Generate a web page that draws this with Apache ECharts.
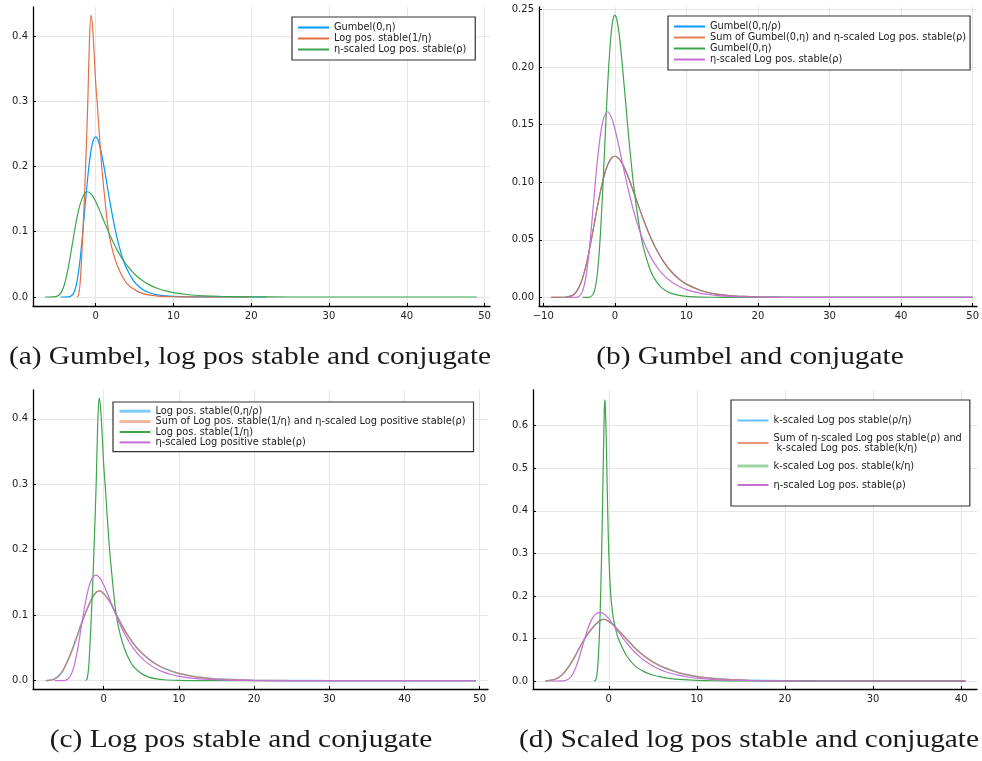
<!DOCTYPE html>
<html><head><meta charset="utf-8">
<script src="https://cdn.jsdelivr.net/npm/echarts@6/dist/echarts.min.js"></script>
<style>html,body{margin:0;padding:0;background:#fff}#c{width:982px;height:761px}</style>
</head><body><div id="c"></div>
<script>
// ---------- data ----------
// Gumbel(0,η)
const gumbelEtaX = [-4.5,-4,-3.5,-3,-2.75,-2.5,-2.25,-2,-1.75,-1.5,-1.25,-1,-0.75,-0.5,-0.25,0,0.25,0.5,0.75,1,1.25,1.5,1.75,2,2.5,3,3.5,4,5,6,7,8,9,10,12,14,16,20,30,40,50];
const gumbelEtaY = [0,0,0.0002,0.0031,0.0080,0.0177,0.0338,0.0569,0.0863,0.1196,0.1536,0.1851,0.2113,0.2305,0.2417,0.2453,0.2421,0.2333,0.2205,0.2049,0.1876,0.1697,0.1521,0.1350,0.1042,0.0788,0.0587,0.0432,0.0229,0.0120,0.0062,0.0032,0.0017,0.0009,0.0002,0.0001,0,0,0,0,0];
// Gumbel(0,η/ρ)
const gumbelEtaRhoX = [-8.9,-8,-7,-6,-5.5,-5,-4.5,-4,-3.5,-3,-2.5,-2,-1.5,-1,-0.5,0,0.5,1,1.5,2,3,4,5,6,7,8,9,10,12,14,16,18,20,24,30,40,50];
const gumbelEtaRhoY = [0,0,0.0001,0.0015,0.0040,0.0089,0.0169,0.0284,0.0432,0.0598,0.0768,0.0925,0.1057,0.1152,0.1208,0.1226,0.1210,0.1167,0.1102,0.1024,0.0849,0.0675,0.0521,0.0394,0.0294,0.0216,0.0158,0.0115,0.0060,0.0031,0.0016,0.0008,0.0004,0.0001,0,0,0];
// Log pos. stable(1/η)
const logStableInvEtaX = [-2.4,-2.2,-2,-1.8,-1.6,-1.4,-1.2,-1,-0.8,-0.6,-0.4,-0.2,0,0.25,0.5,0.75,1,1.25,1.5,1.75,2,2.5,3,3.5,4,5,6,7,8,10,12,14,20,30,40,50];
const logStableInvEtaY = [0,0.003,0.02,0.06,0.11,0.165,0.23,0.30,0.39,0.432,0.415,0.375,0.33,0.29,0.245,0.205,0.172,0.143,0.115,0.095,0.08,0.058,0.042,0.03,0.021,0.011,0.0055,0.0028,0.0014,0.0004,0.0001,0,0,0,0,0];
// η-scaled Log pos. stable(ρ)
const etaScaledX = [-6.5,-6,-5.5,-5,-4.5,-4,-3.5,-3,-2.5,-2,-1.5,-1,-0.5,0,0.5,1,1.5,2,2.5,3,3.5,4,5,6,7,8,9,10,12,14,16,18,20,25,30,40,50];
const etaScaledY = [0,0,0.0001,0.0009,0.0056,0.0195,0.0458,0.0806,0.1152,0.1419,0.1571,0.1613,0.1567,0.1465,0.1331,0.1185,0.1040,0.0904,0.0780,0.0669,0.0572,0.0487,0.0352,0.0253,0.0182,0.0131,0.0094,0.0067,0.0034,0.0018,0.0009,0.0005,0.0002,0,0,0,0];
// Log pos. stable(0,η/ρ) and the sum in (c)
const logStableEtaRhoX = [-7.7,-7,-6.5,-6,-5.5,-5,-4.5,-4,-3.5,-3,-2.5,-2,-1.5,-1,-0.5,0,0.5,1,1.5,2,2.5,3,4,5,6,7,8,10,12,14,16,20,25,30,40,50];
const logStableEtaRhoY = [0,0.001,0.003,0.007,0.014,0.025,0.038,0.053,0.069,0.086,0.101,0.115,0.127,0.135,0.137,0.133,0.126,0.117,0.105,0.094,0.083,0.073,0.056,0.043,0.033,0.025,0.019,0.011,0.0063,0.0036,0.002,0.0006,0.0001,0,0,0];
// k-scaled Log pos stable(ρ/η) and the sum in (d)
const kScaledRhoEtaX = [-7.2,-6.5,-6,-5.5,-5,-4.5,-4,-3.5,-3,-2.5,-2,-1.5,-1,-0.5,0,0.5,1,1.5,2,2.5,3,4,5,6,7,8,10,12,14,16,20,25,30,40,50];
const kScaledRhoEtaY = [0,0.002,0.005,0.011,0.021,0.035,0.052,0.071,0.09,0.107,0.121,0.133,0.142,0.145,0.140,0.132,0.121,0.11,0.099,0.088,0.077,0.059,0.045,0.034,0.026,0.019,0.0105,0.0057,0.003,0.0016,0.0005,0.0001,0,0,0];
// k-scaled Log pos. stable(k/η)
const kScaledKEtaX = [-1.7,-1.5,-1.4,-1.3,-1.2,-1.1,-1,-0.9,-0.8,-0.7,-0.6,-0.5,-0.45,-0.4,-0.3,-0.2,-0.1,0,0.1,0.2,0.3,0.5,0.75,1,1.5,2,3,4,5,6,7,8,10,12,15,20,30,40,50];
const kScaledKEtaY = [0,0.002,0.008,0.022,0.05,0.09,0.145,0.22,0.31,0.42,0.54,0.64,0.66,0.65,0.58,0.48,0.38,0.30,0.25,0.21,0.185,0.15,0.125,0.105,0.08,0.06,0.035,0.022,0.014,0.009,0.0058,0.0037,0.0015,0.0006,0.00015,0,0,0,0];

// last x of each drawn curve
const endA = 49, endABlue = 22, endARed = 20, endB = 50, endC = 49.5, endD = 40.5;

// tick labels
const xTicksA = [0,10,20,30,40,50];
const xTicksB = [-10,0,10,20,30,40,50];
const xTicksC = [0,10,20,30,40,50];
const xTicksD = [0,10,20,30,40];
const yTicksA = [0,0.1,0.2,0.3,0.4];
const yTicksB = [0,0.05,0.1,0.15,0.2,0.25];
const yTicksC = [0,0.1,0.2,0.3,0.4];
const yTicksD = [0,0.1,0.2,0.3,0.4,0.5,0.6];

// legend texts
const namesA = ['Gumbel(0,η)','Log pos. stable(1/η)','η-scaled Log pos. stable(ρ)'];
const namesB = ['Gumbel(0,η/ρ)','Sum of Gumbel(0,η) and η-scaled Log pos. stable(ρ)','Gumbel(0,η)','η-scaled Log pos. stable(ρ)'];
const namesC = ['Log pos. stable(0,η/ρ)','Sum of Log pos. stable(1/η) and η-scaled Log positive stable(ρ)','Log pos. stable(1/η)','η-scaled Log positive stable(ρ)'];
const namesD = ['k-scaled Log pos stable(ρ/η)','Sum of η-scaled Log pos stable(ρ) and\n k-scaled Log pos. stable(k/η)','k-scaled Log pos. stable(k/η)','η-scaled Log pos. stable(ρ)'];

const captions = ['(a) Gumbel, log pos stable and conjugate','(b) Gumbel and conjugate','(c) Log pos stable and conjugate','(d) Scaled log pos stable and conjugate'];

// ---------- build ----------
const BLUE='#009AFA', RED='#E36F47', GREEN='#3EA44E', PURPLE='#C371D2';
function pts(xs, ys, end){
  const out = [];
  for (let i=0;i<xs.length;i++){ if (xs[i] <= end) out.push([xs[i], ys[i]]); }
  if (out[out.length-1][0] < end) out.push([end, out[out.length-1][1]]);
  return out;
}
function fmtNum(v){ return v < 0 ? '\u2212' + Math.abs(v) : String(v); }
const tickFont = {color:'#222', fontSize:10, fontFamily:'DejaVu Sans'};
function xAx(g, min, max, ticks){
  return {type:'value', gridIndex:g, min:min, max:max,
    axisLine:{show:true, onZero:false, lineStyle:{color:'#000', width:1.3}},
    axisTick:{show:true, inside:true, length:3, customValues:ticks, lineStyle:{color:'#000', width:1}},
    axisLabel:Object.assign({customValues:ticks, margin:5, formatter:fmtNum}, tickFont),
    splitLine:{show:true, lineStyle:{color:'#e6e6e6', width:1}}};
}
function yAx(g, min, max, ticks, dec){
  return {type:'value', gridIndex:g, min:min, max:max,
    axisLine:{show:true, onZero:false, lineStyle:{color:'#000', width:1.3}},
    axisTick:{show:true, inside:true, length:3, customValues:ticks, lineStyle:{color:'#000', width:1}},
    axisLabel:Object.assign({customValues:ticks, margin:5, formatter:v=>v.toFixed(dec)}, tickFont),
    splitLine:{show:true, lineStyle:{color:'#e6e6e6', width:1}}};
}
function ser(g, name, color, data, extra){
  return Object.assign({type:'line', name:name, xAxisIndex:g, yAxisIndex:g, data:data,
    symbol:'none', smooth:0.3, clip:true, animation:false,
    lineStyle:{color:color, width:1.2}, itemStyle:{color:color}}, extra||{});
}
const P = ['a:','b:','c:','d:'];
const strip = n => n.substring(2);
const legendText = {fontFamily:'DejaVu Sans', fontSize:9.8, color:'#222', lineHeight:11};
const hiddenMarker = {color:'rgba(0,0,0,0)', borderWidth:0, opacity:0};
function legend(left, top, names, pad, extraItems, lh){
  return {left:left, top:top, orient:'vertical', padding:pad, itemGap:0, itemWidth:31, itemHeight:8,
    backgroundColor:'#fff', borderColor:'#333', borderWidth:1.2, borderRadius:0,
    selectedMode:false, formatter:strip, itemStyle:hiddenMarker,
    textStyle:Object.assign({}, legendText, lh ? {lineHeight:lh} : {}),
    data:names.map((n,i)=>Object.assign({name:n}, extraItems && extraItems[i] ? extraItems[i] : {}))};
}

const option = {
  animation:false,
  backgroundColor:'#fff',
  grid:[
    {left:33, top:7, width:457, height:299},
    {left:539, top:7, width:438, height:299},
    {left:33, top:390, width:455, height:299},
    {left:533, top:390, width:444, height:299}
  ],
  xAxis:[
    xAx(0, -8.05, 50.7, xTicksA),
    xAx(1, -10.6, 50.6, xTicksB),
    xAx(2, -9.4, 51.1, xTicksC),
    xAx(3, -8.6, 41.8, xTicksD)
  ],
  yAxis:[
    yAx(0, -0.0138, 0.4444, yTicksA, 1),
    yAx(1, -0.0075, 0.2523, yTicksB, 2),
    yAx(2, -0.0127, 0.444, yTicksC, 1),
    yAx(3, -0.0188, 0.684, yTicksD, 1)
  ],
  legend:[
    legend(292, 17, namesA.map(n=>P[0]+n), [5,9,5,5]),
    legend(668, 16, namesB.map(n=>P[1]+n), [5,4,5,5]),
    legend(113, 402, namesC.map(n=>P[2]+n), [4,8,4,5],
      [{lineStyle:{width:3, opacity:0.5}}, {lineStyle:{width:3, opacity:0.5}}, null, null], 10.4),
    {left:731, top:400, orient:'vertical', padding:[15,8,15,5], itemGap:7, itemWidth:31, itemHeight:8,
      backgroundColor:'#fff', borderColor:'#333', borderWidth:1.2, selectedMode:false, formatter:strip,
      itemStyle:hiddenMarker, textStyle:legendText,
      data:[
        {name:P[3]+namesD[0], textStyle:{lineHeight:11}},
        {name:P[3]+namesD[1], textStyle:{lineHeight:10}},
        {name:P[3]+namesD[2], textStyle:{lineHeight:12}, lineStyle:{width:3, opacity:0.5}},
        {name:P[3]+namesD[3], textStyle:{lineHeight:12}}
      ]}
  ],
  series:[
    ser(0, P[0]+namesA[0], BLUE, pts(gumbelEtaX, gumbelEtaY, endABlue)),
    ser(0, P[0]+namesA[1], RED, pts(logStableInvEtaX, logStableInvEtaY, endARed)),
    ser(0, P[0]+namesA[2], GREEN, pts(etaScaledX, etaScaledY, endA)),

    ser(1, P[1]+namesB[0], BLUE, pts(gumbelEtaRhoX, gumbelEtaRhoY, endB)),
    ser(1, P[1]+namesB[1], RED, pts(gumbelEtaRhoX, gumbelEtaRhoY, endB), {lineStyle:{color:RED, width:1.2, opacity:0.9}}),
    ser(1, P[1]+namesB[2], GREEN, pts(gumbelEtaX, gumbelEtaY, endB)),
    ser(1, P[1]+namesB[3], PURPLE, pts(etaScaledX, etaScaledY, endB)),

    ser(2, P[2]+namesC[0], BLUE, pts(logStableEtaRhoX, logStableEtaRhoY, endC), {lineStyle:{color:BLUE, width:1.6, opacity:0.6}}),
    ser(2, P[2]+namesC[1], RED, pts(logStableEtaRhoX, logStableEtaRhoY, endC), {lineStyle:{color:RED, width:1.3, opacity:0.75}}),
    ser(2, P[2]+namesC[2], GREEN, pts(logStableInvEtaX, logStableInvEtaY, endC)),
    ser(2, P[2]+namesC[3], PURPLE, pts(etaScaledX, etaScaledY, endC)),

    ser(3, P[3]+namesD[0], BLUE, pts(kScaledRhoEtaX, kScaledRhoEtaY, endD), {lineStyle:{color:BLUE, width:1.6, opacity:0.6}}),
    ser(3, P[3]+namesD[1], RED, pts(kScaledRhoEtaX, kScaledRhoEtaY, endD), {lineStyle:{color:RED, width:1.3, opacity:0.75}}),
    ser(3, P[3]+namesD[2], GREEN, pts(kScaledKEtaX, kScaledKEtaY, endD)),
    ser(3, P[3]+namesD[3], PURPLE, pts(etaScaledX, etaScaledY, endD))
  ],
  graphic:[
    {type:'text', x:250, y:357, scaleX:1.13, style:{text:captions[0], font:'26px "Liberation Serif"', fill:'#1a1a1a', align:'center', verticalAlign:'middle'}},
    {type:'text', x:750, y:357, scaleX:1.13, style:{text:captions[1], font:'26px "Liberation Serif"', fill:'#1a1a1a', align:'center', verticalAlign:'middle'}},
    {type:'text', x:241, y:740, scaleX:1.13, style:{text:captions[2], font:'26px "Liberation Serif"', fill:'#1a1a1a', align:'center', verticalAlign:'middle'}},
    {type:'text', x:749, y:740, scaleX:1.13, style:{text:captions[3], font:'26px "Liberation Serif"', fill:'#1a1a1a', align:'center', verticalAlign:'middle'}}
  ]
};
const chart = echarts.init(document.getElementById('c'), null, {renderer:'canvas'});
chart.setOption(option);
</script>
</body></html>
